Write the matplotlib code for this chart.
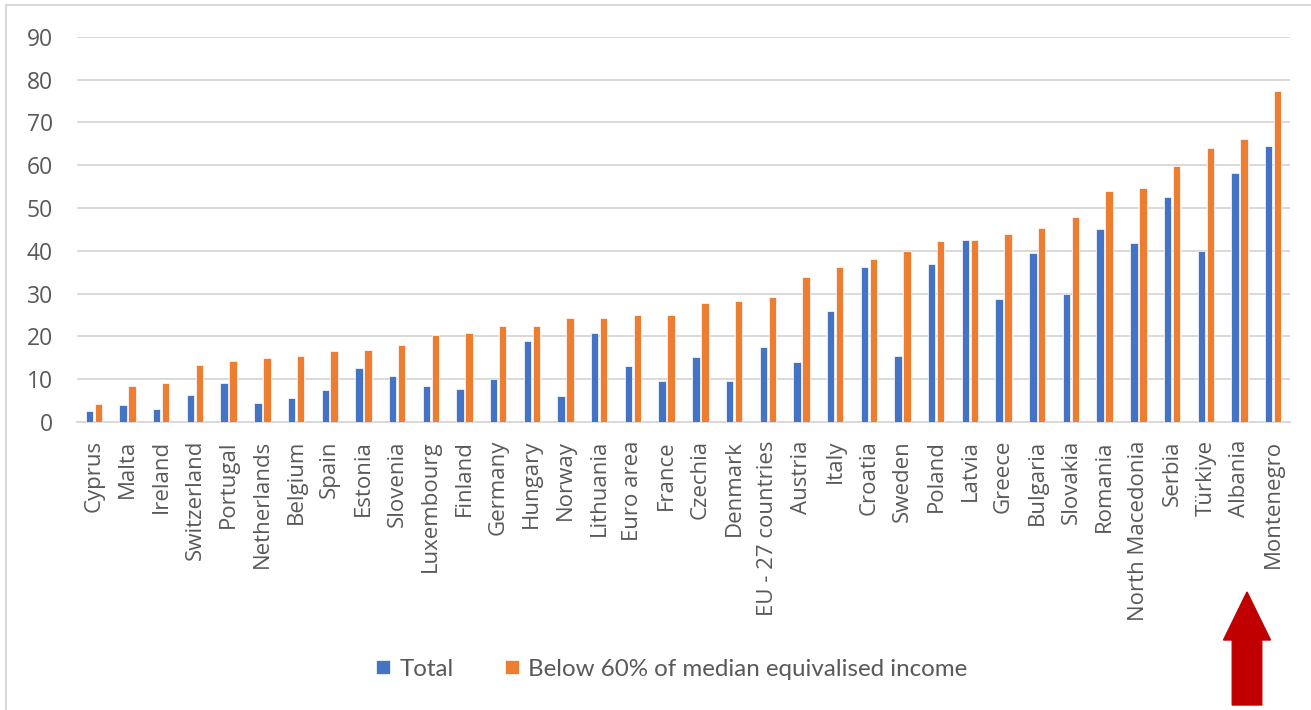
import numpy as np
import matplotlib.pyplot as plt
from matplotlib.patches import FancyArrow, Rectangle

countries = ['Cyprus', 'Malta', 'Ireland', 'Switzerland', 'Portugal', 'Netherlands',
             'Belgium', 'Spain', 'Estonia', 'Slovenia', 'Luxembourg', 'Finland',
             'Germany', 'Hungary', 'Norway', 'Lithuania', 'Euro area', 'France',
             'Czechia', 'Denmark', 'EU - 27 countries', 'Austria', 'Italy', 'Croatia',
             'Sweden', 'Poland', 'Latvia', 'Greece', 'Bulgaria', 'Slovakia', 'Romania',
             'North Macedonia', 'Serbia', 'Türkiye', 'Albania', 'Montenegro']
total = [2.5, 4.0, 3.1, 6.3, 9.0, 4.5, 5.5, 7.5, 12.5, 10.7, 8.3, 7.6,
         10.1, 18.9, 6.0, 20.9, 13.0, 9.5, 15.1, 9.5, 17.5, 13.9, 25.9, 36.2,
         15.4, 36.8, 42.6, 28.8, 39.4, 30.0, 45.0, 41.7, 52.5, 40.0, 58.1, 64.5]
below60 = [4.3, 8.3, 9.0, 13.3, 14.2, 15.0, 15.4, 16.5, 16.8, 18.0, 20.3, 20.7,
           22.4, 22.4, 24.2, 24.4, 25.1, 25.1, 27.7, 28.2, 29.1, 33.8, 36.2, 38.0,
           40.0, 42.3, 42.6, 43.8, 45.2, 47.9, 53.9, 54.6, 59.9, 63.9, 66.0, 77.4]
series_names = ['Total', 'Below 60% of median equivalised income']

blue = '#4472C4'
orange = '#ED7D31'
grid = '#D9D9D9'
text_col = '#595959'

fig = plt.figure(figsize=(13.11, 7.10), dpi=100)
ax = fig.add_axes([77/1311, 1 - 422/710, (1290 - 77)/1311, (422 - 36.7)/710])

x = np.arange(len(countries))
w = 0.22
ax.bar(x - 0.133, total, w, color=blue, edgecolor='white', linewidth=0.5, label=series_names[0], zorder=3)
ax.bar(x + 0.133, below60, w, color=orange, edgecolor='white', linewidth=0.5, label=series_names[1], zorder=3)

ax.set_xlim(-0.5, len(countries) - 0.5)
ax.set_ylim(0, 90)
ax.set_yticks(range(0, 91, 10))
ax.yaxis.grid(True, color=grid, linewidth=1.4, zorder=0)
for s in ['top', 'right', 'left']:
    ax.spines[s].set_visible(False)
ax.spines['bottom'].set_color(grid)
ax.spines['bottom'].set_linewidth(1.4)
ax.tick_params(axis='both', length=0, colors=text_col)
ax.tick_params(axis='y', pad=17.5, labelsize=16.5)
ax.set_xticks(x)
ax.set_xticklabels(countries, rotation=90, fontsize=16, family='Open Sans', color=text_col)
ax.tick_params(axis='x', pad=13)
for t in ax.get_yticklabels():
    t.set_family('Open Sans')

fig.legend(loc='center', bbox_to_anchor=(672/1311, 1 - 669/710), ncol=2, frameon=False,
           prop={'family': 'Lato', 'size': 17.4}, labelcolor=text_col,
           handlelength=0.55, handleheight=0.55, handletextpad=0.4, columnspacing=2.15)

# outer chart frame
fig.patches.append(Rectangle((6/1311, -0.05), 1.1, 1 - 5/710 + 0.05, transform=fig.transFigure,
                             fill=False, edgecolor=grid, linewidth=1.5))

# red arrow pointing up at Albania
fig.patches.append(FancyArrow(1247/1311, 1 - 705/710, 0, (705 - 592)/710, width=16/710,
                              head_width=47/1311, head_length=48/710, length_includes_head=True,
                              color='#C00000', transform=fig.transFigure))

fig.savefig('out.png', dpi=100)
